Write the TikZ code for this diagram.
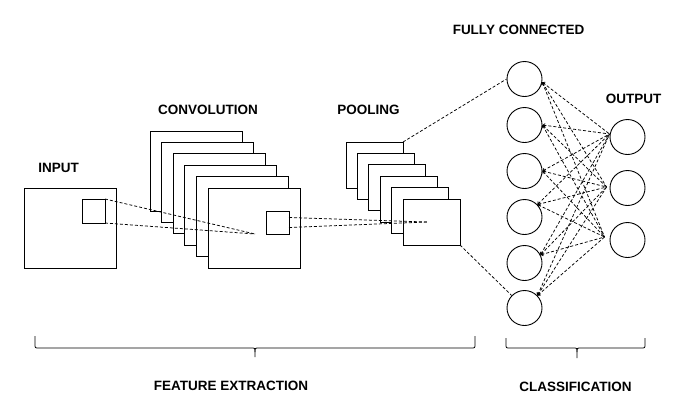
\documentclass[tikz,border=0pt]{standalone}
\usepackage{fontspec}
\setmainfont{Liberation Sans}
\usetikzlibrary{arrows.meta}
\begin{document}
\begin{tikzpicture}[x=1pt,y=-1pt,
 lbl/.style={font=\fontsize{13.5}{15}\selectfont\bfseries, inner sep=0pt},
 framebox/.style={draw, line width=0.9pt, fill=white, inner sep=0pt, outer sep=0pt},
 neuron/.style={draw, circle, line width=0.9pt, minimum size=35pt, inner sep=0pt, fill=white},
 link/.style={line width=0.75pt, dash pattern=on 3pt off 2pt},
 tiplink/.style={link, {Straight Barb[length=2pt,width=3.5pt]}-},
 bracepath/.style={line width=0.8pt}]
\useasboundingbox (0,0) rectangle (685,408);

% input
\node[framebox, minimum width=92pt, minimum height=80pt] (in) at (70,228) {};
\node[framebox, minimum width=23pt, minimum height=24pt] (ins) at (93.5,211) {};

% convolution frames
\foreach \i in {0,...,5} {
  \node[framebox, minimum width=92pt, minimum height=80pt, anchor=north west] (conv\i) at ({150+11.6*\i},{131+11.4*\i}) {};
}
\node[framebox, minimum width=23pt, minimum height=23pt] (cs) at (277.5,222.5) {};

% pooling frames
\foreach \i in {0,...,5} {
  \node[framebox, minimum width=57pt, minimum height=46pt, anchor=north west] (pool\i) at ({346+11.4*\i},{142+11.4*\i}) {};
}

% fully connected
\foreach \y [count=\k] in {79,125,171,217,263,308} {
  \node[neuron] (fc\k) at (524.5,\y) {};
}
% output
\foreach \y [count=\k] in {137,188,240} {
  \node[neuron] (out\k) at (627.5,\y) {};
}

% dashed links feature extraction
\coordinate (cp) at (255,234);
\draw[link] (ins.north east) -- (cp);
\draw[link] (ins.south east) -- (cp);
\coordinate (pp) at (427,222);
\draw[link] ([yshift=5pt]cs.east) -- (pp);
\draw[link] ([yshift=-5pt]cs.east) -- (pp);
\draw[link] (pool0.north east) -- (fc1.west);
\draw[link] (pool5.south east) -- (fc6);

% fc to output
\coordinate (o1) at ([yshift=3pt]out1.west);
\coordinate (o2) at ([xshift=-3pt,yshift=1pt]out2.west);
\coordinate (o3) at ([xshift=-5pt,yshift=3pt]out3.west);
\foreach \k/\a in {1/-10,2/0,3/0,4/44,5/27,6/44} {
  \foreach \j in {1,2,3} {
    \draw[tiplink] (fc\k.\a) -- (o\j);
  }
}

% labels
\node[lbl] (tin) at (58.5,168) {INPUT};
\node[lbl] (tconv) at (208,110) {CONVOLUTION};
\node[lbl] (tpool) at (368.5,110) {POOLING};
\node[lbl] (tfc) at (518.5,30) {FULLY CONNECTED};
\node[lbl] (tout) at (633.5,99) {OUTPUT};
\node[lbl] (tfe) at (231,386) {FEATURE EXTRACTION};
\node[lbl] (tcl) at (575.5,386.5) {CLASSIFICATION};

% braces
\draw[bracepath] (35,336) -- (35,344) .. controls (35,348) .. (39,348) -- (251,348) .. controls (255,348) .. (255,352) -- (255,357);
\draw[bracepath] (255,352) .. controls (255,348) .. (259,348) -- (471,348) .. controls (475,348) .. (475,344) -- (475,336);
\draw[bracepath] (506,338) -- (506,344) .. controls (506,348) .. (510,348) -- (573,348) .. controls (577,348) .. (577,352) -- (577,358);
\draw[bracepath] (577,352) .. controls (577,348) .. (581,348) -- (641,348) .. controls (645,348) .. (645,344) -- (645,338);
\end{tikzpicture}
\end{document}
